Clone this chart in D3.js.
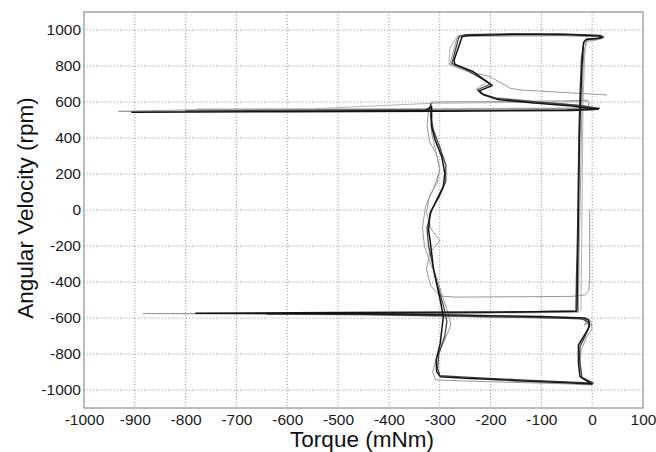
<!DOCTYPE html>
<html>
<head>
<meta charset="utf-8">
<script src="https://cdn.jsdelivr.net/npm/d3@7"></script>
<style>
  body { margin: 0; background: #fff; }
  svg { font-family: "Liberation Sans", Arial, sans-serif; }
  .grid line { stroke: #8a8a8a; stroke-width: 0.8; stroke-dasharray: 1.2, 1.8; }
  .axis .domain { display: none; }
</style>
</head>
<body>
<div id="chart"></div>
<script>
var xTicks = [-1000, -900, -800, -700, -600, -500, -400, -300, -200, -100, 0, 100];
var yTicks = [-1000, -800, -600, -400, -200, 0, 200, 400, 600, 800, 1000];

// [torque mNm, angular velocity rpm]
var traceA = [
  [-30,-563],[-29,-400],[-28,-200],[-27,0],[-26,200],[-25,400],[-23,600],[-20,800],[-17,930],[-12,948],[8,952],[20,958],[14,966],
  [-40,974],[-150,976],[-245,970],[-256,962],[-272,830],[-270,808],[-235,770],[-197,692],[-222,662],[-214,640],[-185,614],
  [-120,596],[-40,578],[12,560],[-40,553],[-300,549],[-600,546],[-906,543],[-600,546],[-330,551],[-316,575],[-316,463],
  [-309,389],[-296,296],[-290,204],[-293,130],[-306,56],[-319,-19],[-322,-111],[-319,-167],[-312,-333],[-299,-500],
  [-293,-593],[-296,-667],[-299,-741],[-307,-833],[-306,-898],[-299,-926],[-250,-935],[-150,-948],[-50,-960],[0,-967],
  [-24,-926],[-27,-850],[-27,-750],[-11,-676],[-5,-640],[-7,-611],[-15,-600],[-100,-592],[-200,-587],[-293,-582],
  [-500,-576],[-780,-573],[-500,-570],[-200,-567],[-30,-563]
];
var traceB = [
  [-32,-560],[-31,-380],[-29,-150],[-28,50],[-27,250],[-26,450],[-24,650],[-21,850],[-16,935],[-8,950],[12,955],[22,962],[16,970],
  [-60,978],[-170,978],[-250,974],[-262,965],[-276,815],[-248,780],[-200,700],[-226,668],[-218,646],[-190,620],[-110,600],
  [-30,582],[14,565],[-50,557],[-300,553],[-550,552],[-800,551],[-560,553],[-320,556],[-318,590],[-318,520],[-312,440],
  [-300,350],[-288,250],[-288,160],[-300,80],[-316,0],[-325,-100],[-322,-200],[-308,-380],[-292,-540],[-286,-620],
  [-290,-700],[-302,-800],[-304,-880],[-300,-920],[-240,-930],[-140,-944],[-40,-956],[2,-962],[-20,-930],[-25,-830],
  [-24,-760],[-12,-690],[-6,-650],[-9,-620],[-20,-605],[-120,-597],[-220,-592],[-290,-588],[-450,-580],[-640,-578],
  [-420,-574],[-200,-570],[-32,-560]
];
var traceC = [
  [-5,0],[-5,-200],[-5,-400],[-7,-450],[-15,-472],[-40,-480],[-150,-482],[-270,-484],[-300,-478],[-318,-420],[-326,-330],
  [-320,-240],[-300,-170],[-318,-100],[-326,-10],[-320,80],[-305,150],[-300,230],[-308,330],[-316,430],[-318,520],
  [-316,600],[-200,602],[-60,606],[-10,610],[-6,600],[-8,570],[-40,565],[-300,560],[-550,558],[-780,557],[-932,548],
  [-700,548],[-400,549],[-322,552],[-325,470],[-320,380],[-305,300],[-300,220],[-312,120],[-328,20],[-334,-100],
  [-330,-200],[-318,-300],[-305,-380],[-298,-450],[-285,-560],[-278,-640],[-290,-720],[-306,-820],[-314,-900],
  [-308,-944],[-250,-950],[-150,-958],[-50,-966],[0,-972],[-20,-935],[-24,-860],[-22,-780],[-10,-700],[0,-660],
  [-3,-615],[-15,-640],[-12,-610],[-30,-603],[-150,-597],[-290,-590],[-500,-582],[-884,-575],[-600,-574],[-300,-572],
  [-120,-571],[-27,-568],[-26,-300],[-24,0],[-22,300],[-20,600],[-17,850],[-12,935],[8,945],[18,952],[10,962],
  [-60,968],[-180,966],[-255,965],[-266,955],[-280,810],[-250,775],[-201,741],[-161,676],[-142,667],[29,639]
];
var traceD = [
  [-22,-560],[-20,0],[-18,600],[-14,900],[-10,940],[15,950],[24,958],[15,970],[-100,975],[-265,968],[-280,900],
  [-282,808],[-245,770],[-205,715],[-228,672],[-220,650],[-195,628],[-100,600],[-20,580],[15,565],[-60,566],
  [-300,563],[-550,561],[-778,560],[-550,562],[-316,593],[-200,596],[-60,600],[-10,604],[-6,585]
];

var traces = [
  {pts: traceD, color: "#b4b4b4", w: 1},
  {pts: traceC, color: "#9a9a9a", w: 1},
  {pts: traceB, color: "#454545", w: 1.3},
  {pts: traceA, color: "#141414", w: 1.5}
];

var svgWidth = 656, svgHeight = 452;
var plot = {left: 84, right: 643, top: 12, bottom: 408};

var svg = d3.select("#chart").append("svg")
    .attr("width", svgWidth)
    .attr("height", svgHeight);

var x = d3.scaleLinear().domain([-1000, 100]).range([plot.left, plot.right]);
var y = d3.scaleLinear().domain([-1100, 1100]).range([plot.bottom, plot.top]);

// grid
svg.append("g")
    .attr("class", "grid")
    .selectAll("line.v")
    .data(xTicks.slice(1, -1))
    .enter().append("line")
    .attr("x1", d => x(d)).attr("x2", d => x(d))
    .attr("y1", plot.top).attr("y2", plot.bottom);

svg.append("g")
    .attr("class", "grid")
    .selectAll("line.h")
    .data(yTicks)
    .enter().append("line")
    .attr("x1", plot.left).attr("x2", plot.right)
    .attr("y1", d => y(d)).attr("y2", d => y(d));

// traces
var line = d3.line().x(d => x(d[0])).y(d => y(d[1]));
svg.append("g")
    .selectAll("path")
    .data(traces)
    .enter().append("path")
    .attr("fill", "none")
    .attr("stroke", d => d.color)
    .attr("stroke-width", d => d.w)
    .attr("stroke-linejoin", "round")
    .attr("d", d => line(d.pts));

// box
svg.append("rect")
    .attr("x", plot.left).attr("y", plot.top)
    .attr("width", plot.right - plot.left)
    .attr("height", plot.bottom - plot.top)
    .attr("fill", "none")
    .attr("stroke", "#7a7a7a")
    .attr("stroke-width", 1);

// axes
var gx = svg.append("g")
    .attr("class", "x axis")
    .attr("transform", `translate(0, ${plot.bottom})`)
    .call(d3.axisBottom(x).tickValues(xTicks).tickSize(0).tickPadding(6).tickFormat(d3.format("d")));

var gy = svg.append("g")
    .attr("class", "y axis")
    .attr("transform", `translate(${plot.left}, 0)`)
    .call(d3.axisLeft(y).tickValues(yTicks).tickSize(0).tickPadding(3).tickFormat(d3.format("d")));

svg.selectAll(".axis")
    .attr("font-family", null)
    .attr("font-size", null);

svg.selectAll(".axis text")
    .style("font-family", "'Liberation Sans', Arial, sans-serif")
    .style("font-size", "15.5px")
    .style("fill", "#1a1a1a")
    .text(function() { return this.textContent.replace("−", "-"); });

svg.append("text")
    .attr("x", 362)
    .attr("y", 447)
    .attr("text-anchor", "middle")
    .style("font-size", "22.5px")
    .style("fill", "#111")
    .text("Torque (mNm)");

svg.append("text")
    .attr("transform", "translate(33, 208) rotate(-90)")
    .attr("text-anchor", "middle")
    .style("font-size", "22.5px")
    .style("fill", "#111")
    .text("Angular Velocity (rpm)");
</script>
</body>
</html>
